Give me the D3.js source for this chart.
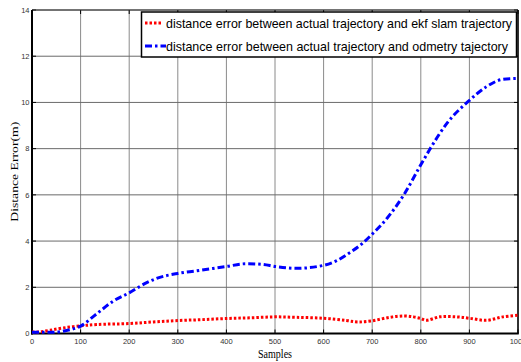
<!DOCTYPE html>
<html><head><meta charset="utf-8">
<script src="https://cdn.jsdelivr.net/npm/d3@7"></script>
<style>body{margin:0;background:#fff}svg{display:block}</style>
</head><body>
<script>
const odoSamples = [0,25,50,75,100,133,167,200,236,256,300,338,400,441,475,500,544,600,627,654,680,700,731,765,800,818,856,897,935,969,1000];
const odoValues  = [0.05,0.05,0.06,0.15,0.32,0.85,1.4,1.76,2.2,2.38,2.6,2.71,2.9,3.02,2.99,2.9,2.82,2.95,3.15,3.5,3.9,4.3,5.0,6.0,7.3,7.95,9.16,10.03,10.68,11.0,11.04];
const ekfSamples = [0,16,37,64,100,133,200,250,300,350,400,450,500,544,600,647,671,700,736,767,785,800,811,839,873,900,935,969,1000];
const ekfValues  = [0.06,0.07,0.14,0.24,0.33,0.39,0.43,0.5,0.56,0.6,0.65,0.68,0.72,0.7,0.66,0.56,0.5,0.55,0.7,0.76,0.72,0.65,0.57,0.72,0.72,0.66,0.57,0.72,0.79];
const xTicks = [0,100,200,300,400,500,600,700,800,900,1000];
const yTicks = [0,2,4,6,8,10,12,14];
const legendLabels = ["distance error between actual trajectory and ekf slam trajectory",
                      "distance error between actual trajectory and odmetry tajectory"];

const W = 521, H = 362;
const L = 32, R = 518, T = 10, B = 333.5;
const svg = d3.select("body").append("svg").attr("width", W).attr("height", H);
const x = d3.scaleLinear().domain([0,1000]).range([L,R]);
const y = d3.scaleLinear().domain([0,14]).range([B,T]);

// grid
const g = svg.append("g");
g.selectAll(".vg").data(xTicks).enter().append("line")
  .attr("x1", d=>x(d)).attr("x2", d=>x(d)).attr("y1", T).attr("y2", B)
  .attr("stroke", "#8a8a8a").attr("stroke-width", 1);
g.selectAll(".hg").data(yTicks).enter().append("line")
  .attr("x1", L).attr("x2", R).attr("y1", d=>y(d)).attr("y2", d=>y(d))
  .attr("stroke", "#6a6a6a").attr("stroke-width", 1);

// inward ticks on all sides
const tl = 4;
svg.selectAll(".tb").data(xTicks).enter().append("line")
  .attr("x1", d=>x(d)).attr("x2", d=>x(d)).attr("y1", B).attr("y2", B-tl).attr("stroke","#000");
svg.selectAll(".tt").data(xTicks).enter().append("line")
  .attr("x1", d=>x(d)).attr("x2", d=>x(d)).attr("y1", T).attr("y2", T+tl).attr("stroke","#000");
svg.selectAll(".tl").data(yTicks).enter().append("line")
  .attr("x1", L).attr("x2", L+tl).attr("y1", d=>y(d)).attr("y2", d=>y(d)).attr("stroke","#000");
svg.selectAll(".tr").data(yTicks).enter().append("line")
  .attr("x1", R).attr("x2", R-tl).attr("y1", d=>y(d)).attr("y2", d=>y(d)).attr("stroke","#000");

// frame
svg.append("line").attr("x1",L).attr("x2",R).attr("y1",T).attr("y2",T).attr("stroke","#333").attr("stroke-width",1);
svg.append("line").attr("x1",R).attr("x2",R).attr("y1",T).attr("y2",B).attr("stroke","#000").attr("stroke-width",1.5);
svg.append("line").attr("x1",L).attr("x2",L).attr("y1",T).attr("y2",B+1).attr("stroke","#000").attr("stroke-width",2);
svg.append("line").attr("x1",L-1).attr("x2",R+0.75).attr("y1",B).attr("y2",B).attr("stroke","#000").attr("stroke-width",2);

// tick labels
svg.selectAll(".xl").data(xTicks).enter().append("text")
  .attr("x", d=>x(d)).attr("y", B+10.5).attr("text-anchor","middle")
  .attr("font-family","Liberation Sans, Arial, sans-serif").attr("font-size",7.5).attr("fill","#333")
  .text(d=>d);
svg.selectAll(".yl").data(yTicks).enter().append("text")
  .attr("x", L-2.5).attr("y", d=>y(d)+2.7).attr("text-anchor","end")
  .attr("font-family","Liberation Sans, Arial, sans-serif").attr("font-size",7.5).attr("fill","#333")
  .text(d=>d);

// axis titles
svg.append("text").attr("x", (L+R)/2).attr("y", 357.5).attr("text-anchor","middle")
  .attr("font-family","Liberation Serif, Times New Roman, serif").attr("font-size",12)
  .attr("textLength",34).attr("lengthAdjust","spacingAndGlyphs").text("Samples");
svg.append("text").attr("transform", `translate(17.5,${(T+B)/2}) rotate(-90)`).attr("text-anchor","middle")
  .attr("font-family","Liberation Serif, Times New Roman, serif").attr("font-size",11)
  .attr("textLength",100).attr("lengthAdjust","spacingAndGlyphs").text("Distance Error(m)");

// lines
const lineR = d3.line().x(d=>x(d[0])).y(d=>y(d[1])).curve(d3.curveCatmullRom);
const lineB = d3.line().x(d=>x(d[0])).y(d=>y(d[1])).curve(d3.curveMonotoneX);
const ekf = ekfSamples.map((s,i)=>[s,ekfValues[i]]);
const odo = odoSamples.map((s,i)=>[s,odoValues[i]]);
svg.append("path").attr("d", lineR(ekf)).attr("fill","none").attr("stroke","#ff0000")
  .attr("stroke-width",3).attr("stroke-dasharray","2.5,2");
svg.append("path").attr("d", lineB(odo)).attr("fill","none").attr("stroke","#0000ff")
  .attr("stroke-width",3).attr("stroke-dasharray","7,3,2.5,3");

// legend
const lg = svg.append("g");
lg.append("rect").attr("x",141.5).attr("y",12).attr("width",375).attr("height",45)
  .attr("fill","#fff").attr("stroke","#000").attr("stroke-width",1.5);
lg.append("line").attr("x1",145).attr("x2",161).attr("y1",23).attr("y2",23)
  .attr("stroke","#ff0000").attr("stroke-width",3).attr("stroke-dasharray","2.5,2");
lg.append("line").attr("x1",145).attr("x2",166).attr("y1",46).attr("y2",46)
  .attr("stroke","#0000ff").attr("stroke-width",3).attr("stroke-dasharray","7,3,2.5,3");
const lens = [346, 342];
lg.selectAll(".lt").data(legendLabels).enter().append("text")
  .attr("x",166).attr("y",(d,i)=>27.5+i*23.5)
  .attr("font-family","Liberation Sans, Arial, sans-serif").attr("font-size",13)
  .attr("textLength",(d,i)=>lens[i]).attr("lengthAdjust","spacingAndGlyphs")
  .text(d=>d);
</script>
</body></html>
